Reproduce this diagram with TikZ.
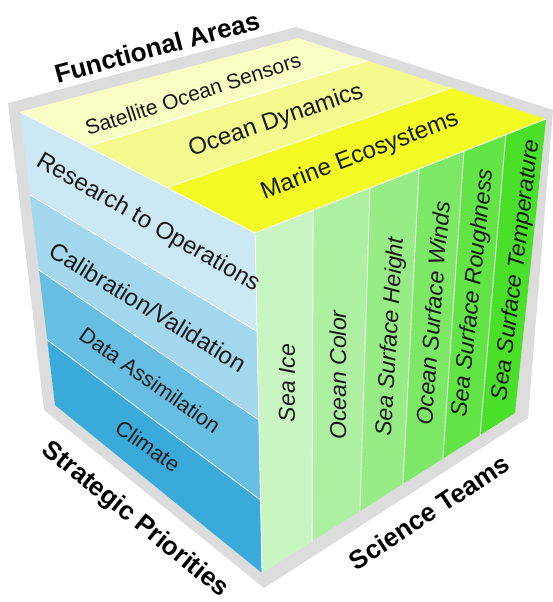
\documentclass[tikz,border=0pt]{standalone}
\usepackage{fontspec}
\setmainfont{Liberation Sans}
\usetikzlibrary{calc}
\definecolor{framegray}{HTML}{DCDCDC}
\definecolor{sensorcol}{HTML}{FAFDC3}
\definecolor{dynamcol}{HTML}{F5FA8F}
\definecolor{ecocol}{HTML}{F2FC24}
\definecolor{rtocol}{HTML}{CCE8F4}
\definecolor{calvalcol}{HTML}{A3D7ED}
\definecolor{assimcol}{HTML}{66BEE3}
\definecolor{climcol}{HTML}{3AAADB}
\definecolor{icecol}{HTML}{C8F5C2}
\definecolor{colorcol}{HTML}{ADF0A2}
\definecolor{heightcol}{HTML}{97EC86}
\definecolor{windcol}{HTML}{7DE766}
\definecolor{roughcol}{HTML}{62E446}
\definecolor{tempcol}{HTML}{4ADF28}
\tikzset{
  divider/.style={white, line width=0.8pt},
  facetext/.style={inner sep=0pt, text=black!90, font=\fontsize{24}{24}\selectfont},
  teamtext/.style={inner sep=0pt, text=black!90, font=\fontsize{23}{23}\selectfont\itshape},
  axistitle/.style={inner sep=0pt, font=\fontsize{26}{26}\selectfont\bfseries},
}
\begin{document}
\begin{tikzpicture}[x=1pt,y=-1pt,line join=round,line cap=round]
	\useasboundingbox (0,0) rectangle (552,602);
	% grey frame behind the cube
	\fill[framegray] (8,103) -- (296,27) -- (553,110) -- (528,418) -- (264,588) -- (44,410) -- cycle;
	% cube corners
	\coordinate (tl) at (20,112);
	\coordinate (tb) at (298,38);
	\coordinate (tr) at (546,119);
	\coordinate (fc) at (255,233);
	\coordinate (bl) at (55,405);
	\coordinate (bf) at (262,573);
	\coordinate (br) at (515,413);
	% top face
	\coordinate (ta1) at ($(tl)!0.285!(fc)$);
	\coordinate (ta2) at ($(tl)!0.626!(fc)$);
	\coordinate (tb1) at ($(tb)!0.28!(tr)$);
	\coordinate (tb2) at ($(tb)!0.617!(tr)$);
	\fill[sensorcol] (tl) -- (tb) -- (tb1) -- (ta1) -- cycle;
	\fill[dynamcol] (ta1) -- (tb1) -- (tb2) -- (ta2) -- cycle;
	\fill[ecocol] (ta2) -- (tb2) -- (tr) -- (fc) -- cycle;
	% left face
	\coordinate (la1) at ($(tl)!0.283!(bl)$);
	\coordinate (la2) at ($(tl)!0.539!(bl)$);
	\coordinate (la3) at ($(tl)!0.778!(bl)$);
	\coordinate (lb1) at ($(fc)!0.29!(bf)$);
	\coordinate (lb2) at ($(fc)!0.55!(bf)$);
	\coordinate (lb3) at ($(fc)!0.785!(bf)$);
	\fill[rtocol] (tl) -- (fc) -- (lb1) -- (la1) -- cycle;
	\fill[calvalcol] (la1) -- (lb1) -- (lb2) -- (la2) -- cycle;
	\fill[assimcol] (la2) -- (lb2) -- (lb3) -- (la3) -- cycle;
	\fill[climcol] (la3) -- (lb3) -- (bf) -- (bl) -- cycle;
	% right face
	\coordinate (ra1) at ($(fc)!0.2!(tr)$);
	\coordinate (ra2) at ($(fc)!0.395!(tr)$);
	\coordinate (ra3) at ($(fc)!0.564!(tr)$);
	\coordinate (ra4) at ($(fc)!0.718!(tr)$);
	\coordinate (ra5) at ($(fc)!0.862!(tr)$);
	\coordinate (rb1) at ($(bf)!0.198!(br)$);
	\coordinate (rb2) at ($(bf)!0.387!(br)$);
	\coordinate (rb3) at ($(bf)!0.557!(br)$);
	\coordinate (rb4) at ($(bf)!0.715!(br)$);
	\coordinate (rb5) at ($(bf)!0.862!(br)$);
	\fill[icecol] (fc) -- (ra1) -- (rb1) -- (bf) -- cycle;
	\fill[colorcol] (ra1) -- (ra2) -- (rb2) -- (rb1) -- cycle;
	\fill[heightcol] (ra2) -- (ra3) -- (rb3) -- (rb2) -- cycle;
	\fill[windcol] (ra3) -- (ra4) -- (rb4) -- (rb3) -- cycle;
	\fill[roughcol] (ra4) -- (ra5) -- (rb5) -- (rb4) -- cycle;
	\fill[tempcol] (ra5) -- (tr) -- (br) -- (rb5) -- cycle;
	% white dividers
	\draw[divider] (ta1) -- (tb1);
	\draw[divider] (ta2) -- (tb2);
	\draw[divider] (la1) -- (lb1);
	\draw[divider] (la2) -- (lb2);
	\draw[divider] (la3) -- (lb3);
	\draw[divider] (ra1) -- (rb1);
	\draw[divider] (ra2) -- (rb2);
	\draw[divider] (ra3) -- (rb3);
	\draw[divider] (ra4) -- (rb4);
	\draw[divider] (ra5) -- (rb5);
	\draw[divider] (tl) -- (fc) -- (tr);
	\draw[divider] (fc) -- (bf);
	% functional areas
	\node[facetext, rotate=18, font=\fontsize{21}{21}\selectfont] (sensors) at (193,94) {Satellite Ocean Sensors};
	\node[facetext, rotate=19] (dynamics) at (276,121) {Ocean Dynamics};
	\node[facetext, rotate=21] (ecosys) at (360,156) {Marine Ecosystems};
	% strategic priorities
	\node[facetext, rotate=-30] (rto) at (148,223) {Research to Operations};
	\node[facetext, rotate=-31.5] (calval) at (148,307) {Calibration/Validation};
	\node[facetext, rotate=-35, font=\fontsize{21.5}{21.5}\selectfont] (assim) at (150,380) {Data Assimilation};
	\node[facetext, rotate=-35, font=\fontsize{21.5}{21.5}\selectfont] (climate) at (148,446) {Climate};
	% science teams
	\node[teamtext, rotate=90] (seaice) at (287,383) {Sea Ice};
	\node[teamtext, rotate=90] (ocolor) at (338,375) {Ocean Color};
	\node[teamtext, rotate=86.5] (ssh) at (391,337) {Sea Surface Height};
	\node[teamtext, rotate=85.5] (winds) at (433,313) {Ocean Surface Winds};
	\node[teamtext, rotate=84] (rough) at (474,293) {Sea Surface Roughness};
	\node[teamtext, rotate=83] (sst) at (517,270) {Sea Surface Temperature};
	% axis titles
	\node[axistitle, rotate=15] (areas) at (157,47) {Functional Areas};
	\node[axistitle, rotate=-39] (priorities) at (135,520) {Strategic Priorities};
	\node[axistitle, rotate=33.5] (teams) at (429,512) {Science Teams};
\end{tikzpicture}
\end{document}
